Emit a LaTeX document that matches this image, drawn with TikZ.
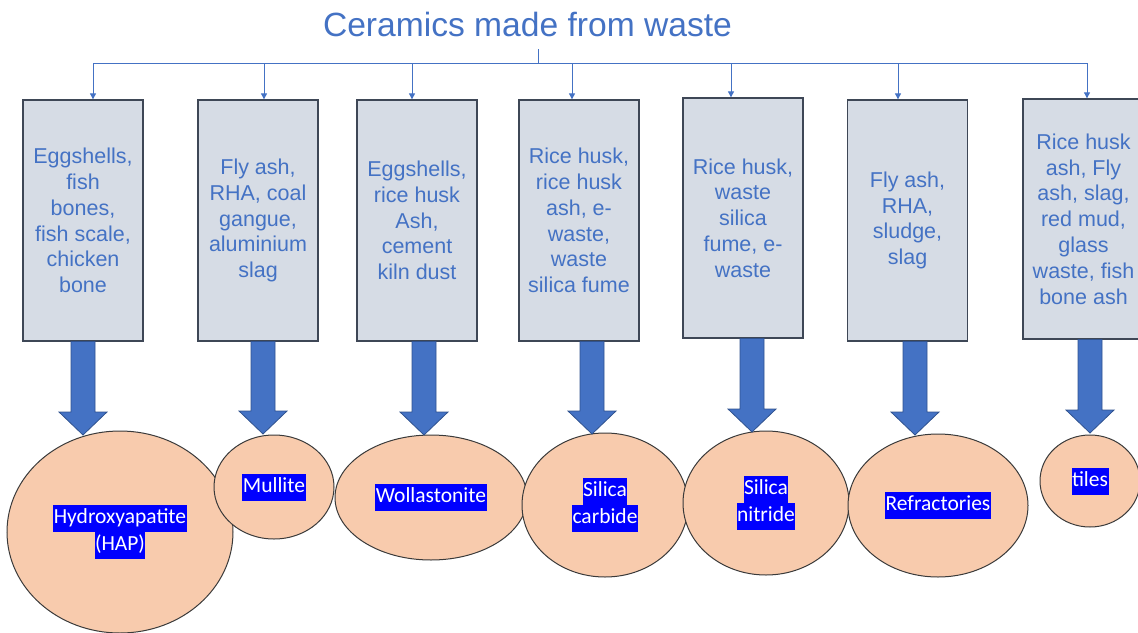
\documentclass[tikz,border=0pt]{standalone}
\usepackage{fontspec}
\setmainfont{Liberation Sans}
\newfontfamily\labfont{Carlito}
\usetikzlibrary{arrows.meta,shapes.geometric}
\definecolor{acc}{HTML}{4472C4}
\definecolor{accdark}{HTML}{2F528F}
\definecolor{boxfill}{HTML}{D6DCE5}
\definecolor{boxline}{HTML}{3E4756}
\definecolor{peach}{HTML}{F8CBAD}
\definecolor{ellline}{HTML}{3A3A3A}
\definecolor{hlblue}{HTML}{0000FF}
\newcommand\hlb[1]{{\setlength{\fboxsep}{0pt}\colorbox{hlblue}{\strut\kern0.5pt #1\kern0.5pt}}}
\newcommand\blockarr[3]{\draw[barrow] (#1-12,#2) -- (#1+12,#2) -- (#1+12,#3-23) -- (#1+24,#3-23) -- (#1,#3) -- (#1-24,#3-23) -- (#1-12,#3-23) -- cycle;}
\begin{document}
\begin{tikzpicture}[x=1pt,y=-1pt,
  srcbox/.style={draw=boxline, line width=1.3pt, fill=boxfill, minimum width=120pt, minimum height=241pt, inner sep=2pt, align=center, text=acc, font=\fontsize{21.5}{25.8}\selectfont},
  prod/.style={ellipse, draw=ellline, line width=1pt, fill=peach, inner sep=0pt, align=center, text=white, font=\labfont\fontsize{21.5}{27}\selectfont},
  conn/.style={draw=acc, line width=0.9pt},
  connarrow/.style={conn, -{Triangle[width=6pt,length=6pt]}},
  barrow/.style={fill=acc, draw=accdark, line width=0.8pt},
  title/.style={text=acc, font=\fontsize{33.6}{40}\selectfont, inner sep=0pt}]
\useasboundingbox (0,0) rectangle (1138,632);

% title
\node[title, anchor=base] (T) at (527.5,36) {Ceramics made from waste};

% source boxes
\node[srcbox] (b1) at (83,220.5) {Eggshells,\\fish\\bones,\\fish scale,\\chicken\\bone};
\node[srcbox] (b2) at (258,220.5) {Fly ash,\\RHA, coal\\gangue,\\aluminium\\slag};
\node[srcbox] (b3) at (417,220.5) {Eggshells,\\rice husk\\Ash,\\cement\\kiln dust};
\node[srcbox] (b4) at (579,220.5) {Rice husk,\\rice husk\\ash, e-\\waste,\\waste\\silica fume};
\node[srcbox, minimum height=240pt] (b5) at (743,218) {Rice husk,\\waste\\silica\\fume, e-\\waste};
\node[srcbox] (b6) at (907.5,220.5) {Fly ash,\\RHA,\\sludge,\\slag};
\node[srcbox, minimum width=121pt, minimum height=240pt] (b7) at (1083.5,219) {Rice husk\\ash, Fly\\ash, slag,\\red mud,\\glass\\waste, fish\\bone ash};

% top connectors
\coordinate (tk) at (538,49);
\coordinate (hub) at (538,63);
\coordinate (a1) at (93,63);
\coordinate (a2) at (264,63);
\coordinate (a3) at (412,63);
\coordinate (a4) at (572,63);
\coordinate (a5) at (731,63);
\coordinate (a6) at (898,63);
\coordinate (a7) at (1087,63);
\draw[conn] (tk) -- (hub);
\draw[conn] (a1) -- (a7);
\foreach \i in {1,...,7} \draw[connarrow] (a\i) -- (a\i |- b\i.north);

% products
\node[prod, minimum width=226pt, minimum height=202pt] (e1) at (120,532) {\hlb{Hydroxyapatite}\\\hlb{(HAP)}};
\node[prod, minimum width=120pt, minimum height=104pt] (e2) at (274,487) {\hlb{Mullite}};
\node[prod, minimum width=192pt, minimum height=125pt] (e3) at (431,497.5) {\hlb{Wollastonite}};
\node[prod, minimum width=166pt, minimum height=144pt] (e4) at (605,505) {\hlb{Silica}\\\hlb{carbide}};
\node[prod, minimum width=166pt, minimum height=144pt] (e5) at (766,503) {\hlb{Silica}\\\hlb{nitride}};
\node[prod, minimum width=180pt, minimum height=143pt] (e6) at (938,505.5) {\hlb{Refractories}};
\node[prod, minimum width=100pt, minimum height=92pt] (e7) at (1090,481) {\hlb{tiles}};

% block arrows
\blockarr{83}{341.5}{435}
\blockarr{263}{341.5}{434}
\blockarr{424}{341.5}{435}
\blockarr{592}{341.5}{434}
\blockarr{752}{338.5}{432}
\blockarr{915}{341.5}{435}
\blockarr{1090}{339.5}{433}
\end{tikzpicture}
\end{document}
